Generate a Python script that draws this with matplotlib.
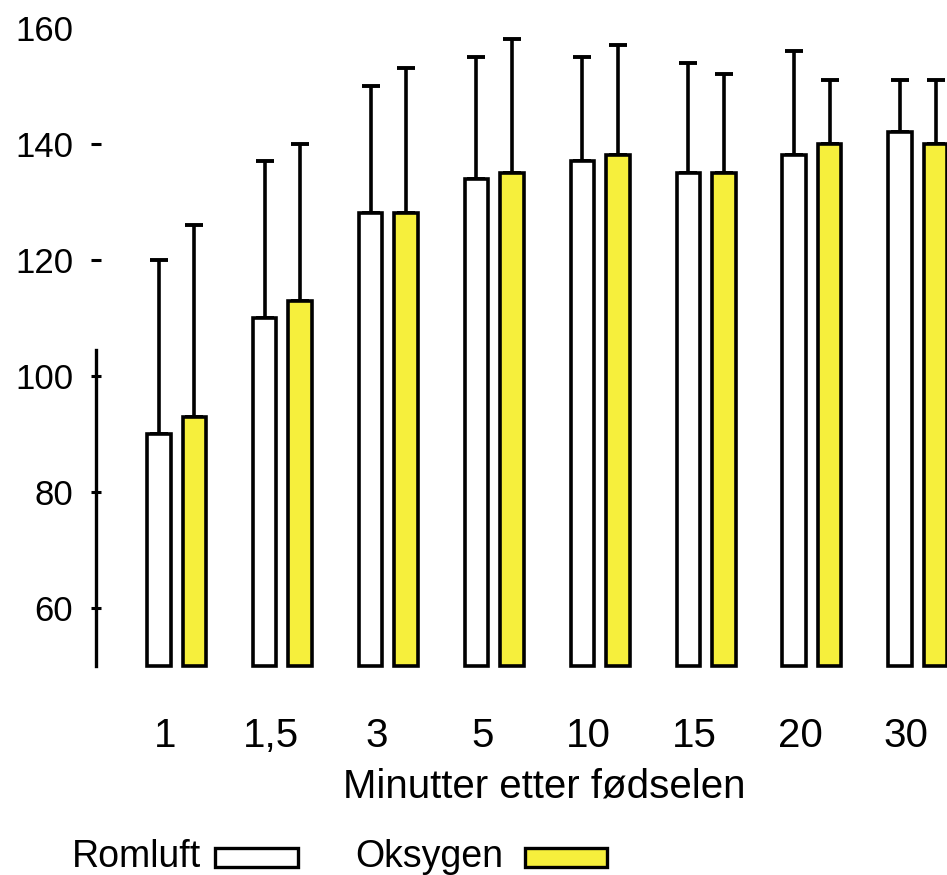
import numpy as np
import matplotlib
matplotlib.use('Agg')
from matplotlib import pyplot as plt
from matplotlib.patches import Rectangle

plt.rcParams['font.family'] = ['Liberation Sans', 'DejaVu Sans']

# data
minutes = ['1', '1,5', '3', '5', '10', '15', '20', '30']
romluft_mean = [90, 110, 128, 134, 137, 135, 138, 142]
romluft_top = [120, 137, 150, 155, 155, 154, 156, 151]
oksygen_mean = [93, 113, 128, 135, 138, 135, 140, 140]
oksygen_top = [126, 140, 153, 158, 157, 152, 151, 151]
yticks = [60, 80, 100, 120, 140, 160]

W, H = 947, 875
fig = plt.figure(figsize=(W / 100, H / 100), dpi=100)
ax = fig.add_axes([96 / W, (H - 666) / H, (W - 96) / W, 666 / H])

x = np.arange(len(minutes))
bw = 0.222
off = 0.335
base = 50
yellow = '#f6ef3c'

r_mean = np.array(romluft_mean)
o_mean = np.array(oksygen_mean)
r_err = np.array(romluft_top) - r_mean
o_err = np.array(oksygen_top) - o_mean

ax.bar(x, r_mean - base, bottom=base, width=bw, color='white',
       edgecolor='black', linewidth=2.6, zorder=2, clip_on=False)
ax.bar(x + off, o_mean - base, bottom=base, width=bw, color=yellow,
       edgecolor='black', linewidth=2.6, zorder=2, clip_on=False)
ax.errorbar(x, r_mean, yerr=[np.zeros(len(x)), r_err], fmt='none',
            ecolor='black', elinewidth=2.6, capsize=6.8, capthick=2.8, zorder=1)
ax.errorbar(x + off, o_mean, yerr=[np.zeros(len(x)), o_err], fmt='none',
            ecolor='black', elinewidth=2.6, capsize=6.8, capthick=2.8, zorder=1)

ax.set_xlim(-0.593, 7.443)
ax.set_ylim(50, 164.8)

for s in ['top', 'right', 'bottom']:
    ax.spines[s].set_visible(False)
ax.spines['left'].set_bounds(50, 104.5)
ax.spines['left'].set_linewidth(2.4)

ax.set_yticks(yticks)
ax.set_yticklabels([str(v) for v in yticks], fontsize=25)
ax.tick_params(axis='y', direction='inout', length=7, width=2.2, pad=13)
ax.yaxis.get_major_ticks()[-1].tick1line.set_visible(False)

ax.set_xticks(x + 0.06)
ax.set_xticklabels(minutes, fontsize=29)
ax.tick_params(axis='x', length=0, pad=37)

fig.text(544 / W, 1 - 798 / H, 'Minutter etter fødselen', fontsize=29,
         ha='center', va='baseline')

# legend: label first, then the swatch
fig.text(72 / W, 1 - 867 / H, 'Romluft', fontsize=27, ha='left', va='baseline')
fig.patches.append(Rectangle((215 / W, 1 - 867 / H), 83 / W, 19 / H,
                             transform=fig.transFigure, facecolor='white',
                             edgecolor='black', linewidth=2.4))
fig.text(355 / W, 1 - 867 / H, 'Oksygen', fontsize=27, ha='left', va='baseline')
fig.patches.append(Rectangle((525 / W, 1 - 867 / H), 82 / W, 19 / H,
                             transform=fig.transFigure, facecolor=yellow,
                             edgecolor='black', linewidth=2.4))

fig.savefig('out.png', dpi=100)
